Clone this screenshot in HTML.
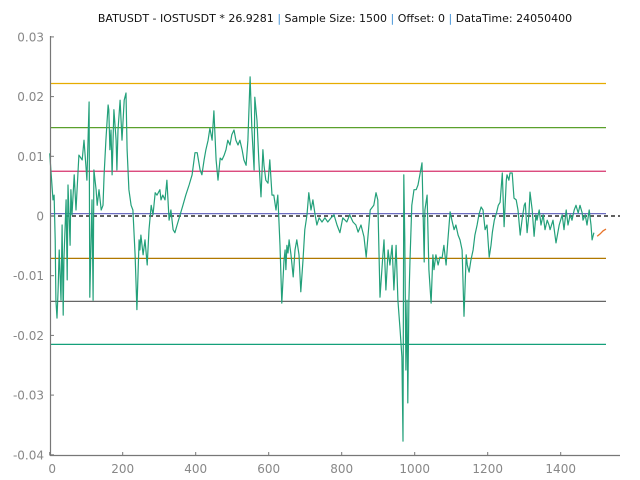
<!DOCTYPE html>
<html><head><meta charset="utf-8"><style>
html,body{margin:0;padding:0;background:#fff;}
svg{display:block;font-family:"DejaVu Sans","Liberation Sans",sans-serif;}
</style></head><body>
<svg id="chart" width="640" height="480" viewBox="0 0 640 480" xmlns="http://www.w3.org/2000/svg">
<text x="335" y="22" text-anchor="middle" font-size="11" fill="#111">BATUSDT - IOSTUSDT * 26.9281 <tspan fill="#3b8fd6">|</tspan> Sample Size: 1500 <tspan fill="#3b8fd6">|</tspan> Offset: 0 <tspan fill="#3b8fd6">|</tspan> DataTime: 24050400</text>
<g id="grid"></g><g id="series"></g><g id="axes"></g>
</svg>
<script>
const xTicks=[0,200,400,600,800,1000,1200,1400];
const yTicks=[0.03,0.02,0.01,0,-0.01,-0.02,-0.03,-0.04];
const yTickLabels=["0.03","0.02","0.01","0","-0.01","-0.02","-0.03","-0.04"];
const levelValues=[0.0222,0.0148,0.0075,0.0004,-0.0071,-0.0143,-0.0215];
const levelColors=["#e6ac00","#5aa02c","#d6336c","#6c6cc0","#b07800","#666666","#14a07a"];
const sampleIdx=[0,9,12,15,17,20,23,26,31,34,37,39,45,48,50,56,58,61,67,72,80,89,94,100,102,108,110,116,119,121,127,130,135,141,146,149,154,160,162,165,168,171,176,182,184,187,193,198,204,209,212,217,223,228,234,239,245,247,250,256,261,267,272,278,283,289,294,302,305,310,316,321,327,332,338,343,349,365,373,382,390,398,404,412,417,423,428,434,439,445,450,456,461,467,472,478,483,488,494,499,505,510,516,521,527,532,538,543,549,554,560,562,568,573,579,584,587,592,598,603,609,614,620,625,631,636,642,645,647,650,653,656,661,667,672,677,683,688,694,699,705,710,716,721,727,732,738,746,754,762,771,779,787,795,803,814,822,831,839,845,853,861,867,878,888,894,899,905,913,916,921,927,932,938,943,949,954,960,965,968,970,973,976,979,981,984,987,990,992,998,1004,1009,1015,1020,1026,1028,1034,1039,1045,1050,1053,1058,1064,1069,1075,1080,1086,1091,1097,1102,1108,1113,1119,1124,1130,1135,1141,1144,1149,1154,1160,1165,1171,1176,1182,1187,1193,1198,1204,1209,1213,1218,1224,1229,1234,1240,1245,1251,1253,1258,1261,1267,1272,1278,1283,1289,1294,1300,1303,1308,1313,1316,1322,1327,1332,1335,1341,1346,1352,1357,1363,1368,1371,1379,1387,1396,1404,1409,1415,1420,1426,1431,1437,1442,1448,1453,1459,1461,1467,1472,1478,1483,1486,1491,1494,1500];
const sampleVal=[0.0105,0.0027,0.0035,-0.0040,-0.0141,-0.0171,-0.0124,-0.0057,-0.0141,-0.0015,-0.0166,-0.0074,0.0027,-0.0107,0.0052,-0.0049,0.0044,0.0002,0.0069,0.0010,0.0102,0.0094,0.0127,0.0077,0.0060,0.0191,-0.0136,0.0027,-0.0141,0.0077,0.0044,0.0018,0.0044,0.0010,0.0018,0.0069,0.0127,0.0186,0.0178,0.0111,0.0144,0.0069,0.0178,0.0127,0.0077,0.0144,0.0194,0.0127,0.0194,0.0206,0.0111,0.0044,0.0018,0.0010,-0.0065,-0.0157,-0.0040,-0.0057,-0.0032,-0.0065,-0.0040,-0.0082,-0.0023,0.0018,0.0002,0.0039,0.0035,0.0044,0.0027,0.0035,0.0027,0.0060,-0.0007,0.0010,-0.0023,-0.0028,-0.0015,0.0018,0.0035,0.0052,0.0069,0.0106,0.0106,0.0077,0.0069,0.0094,0.0111,0.0127,0.0147,0.0127,0.0176,0.0094,0.0060,0.0097,0.0094,0.0102,0.0111,0.0127,0.0119,0.0136,0.0144,0.0127,0.0119,0.0127,0.0111,0.0094,0.0085,0.0127,0.0233,0.0144,0.0077,0.0199,0.0160,0.0094,0.0032,0.0111,0.0085,0.0060,0.0055,0.0094,0.0035,0.0035,0.0010,0.0035,-0.0049,-0.0146,-0.0074,-0.0057,-0.0090,-0.0049,-0.0062,-0.0040,-0.0065,-0.0102,-0.0057,-0.0040,-0.0065,-0.0127,-0.0074,-0.0023,0.0002,0.0039,0.0010,0.0027,0.0002,-0.0015,-0.0003,-0.0010,-0.0003,-0.0010,-0.0003,0.0002,-0.0015,-0.0028,-0.0003,-0.0010,0.0002,-0.0010,-0.0015,-0.0027,-0.0015,-0.0035,-0.0069,0.0010,0.0018,0.0039,0.0027,-0.0136,-0.0065,-0.0040,-0.0124,-0.0057,-0.0082,-0.0049,-0.0124,-0.0049,-0.0141,-0.0191,-0.0236,-0.0377,0.0069,-0.0040,-0.0258,-0.0141,-0.0313,-0.0141,-0.0074,-0.0023,0.0018,0.0044,0.0044,0.0052,0.0072,0.0089,-0.0077,0.0010,0.0035,-0.0090,-0.0146,-0.0065,-0.0090,-0.0065,-0.0082,-0.0069,-0.0070,-0.0049,-0.0082,-0.0040,0.0007,-0.0007,-0.0023,-0.0015,-0.0032,-0.0040,-0.0057,-0.0168,-0.0065,-0.0082,-0.0094,-0.0074,-0.0057,-0.0032,-0.0015,0.0002,0.0015,0.0010,-0.0023,-0.0015,-0.0069,-0.0049,-0.0027,-0.0007,0.0005,0.0018,0.0023,0.0072,-0.0018,0.0060,0.0069,0.0060,0.0072,0.0072,0.0030,0.0027,0.0010,-0.0032,-0.0007,0.0018,0.0022,-0.0028,0.0002,0.0040,0.0010,-0.0034,0.0002,-0.0007,0.0010,-0.0015,0.0002,-0.0023,-0.0007,-0.0015,-0.0023,-0.0007,-0.0045,-0.0015,0.0002,-0.0023,0.0010,-0.0015,0.0002,-0.0007,0.0010,0.0018,0.0005,0.0018,0.0005,-0.0007,0.0002,-0.0015,0.0010,-0.0015,-0.0040,-0.0028];
const forecastIdx=[1500,1508,1516,1524];
const forecastVal=[-0.0034,-0.0030,-0.0025,-0.0022];
const NS="http://www.w3.org/2000/svg";
function xs(i){return 49.7+0.365*i;}
function ys(v){return 216-v*5970;}
function mk(tag,attrs,parent){const e=document.createElementNS(NS,tag);for(const k in attrs)e.setAttribute(k,attrs[k]);parent.appendChild(e);return e;}
const grid=document.getElementById('grid'),ser=document.getElementById('series'),ax=document.getElementById('axes');
levelValues.forEach((v,k)=>{
  const l=mk('line',{x1:51,x2:606,y1:ys(v),y2:ys(v),stroke:levelColors[k],'stroke-width':1.2},grid);
  
  
});
const z=mk('line',{x1:51,x2:620,y1:ys(0),y2:ys(0),stroke:'#000','stroke-width':1.2,'stroke-dasharray':'4,3'},grid);


const p=mk('polyline',{points:sampleIdx.map((d,i)=>xs(d).toFixed(1)+','+ys(sampleVal[i]).toFixed(1)).join(' '),fill:'none',stroke:'#23a07a','stroke-width':1.2,'stroke-linejoin':'round'},ser);


const f=mk('polyline',{points:forecastIdx.map((d,i)=>xs(d).toFixed(1)+','+ys(forecastVal[i]).toFixed(1)).join(' '),fill:'none',stroke:'#e8742a','stroke-width':1.3},ser);


const ya=mk('line',{x1:50.5,x2:50.5,y1:36,y2:455.5,stroke:'#777','stroke-width':1.2},ax);


const xa=mk('line',{x1:50,x2:620,y1:455.5,y2:455.5,stroke:'#777','stroke-width':1.2},ax);


yTicks.forEach((v,k)=>{
  mk('line',{x1:50,x2:54,y1:ys(v),y2:ys(v),stroke:'#777'},ax);
  const t=mk('text',{x:44,y:ys(v)+4.5,'text-anchor':'end','font-size':12,fill:'#888'},ax);
  t.textContent=yTickLabels[k];
  
  
});
xTicks.forEach(v=>{
  mk('line',{x1:xs(v),x2:xs(v),y1:452,y2:455.5,stroke:'#777'},ax);
  const t=mk('text',{x:xs(v)+(v===0?2.5:0),y:473,'text-anchor':'middle','font-size':12,fill:'#888'},ax);
  t.textContent=String(v);
  
  
});
</script>
</body></html>
